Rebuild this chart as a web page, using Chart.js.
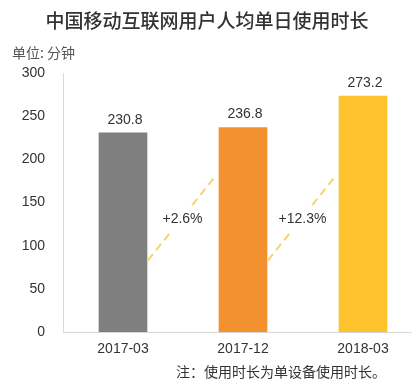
<!DOCTYPE html>
<html>
<head>
<meta charset="utf-8">
<script src="https://cdn.jsdelivr.net/npm/chart.js@4/dist/chart.umd.min.js"></script>
<style>
  html, body { margin: 0; padding: 0; background: #ffffff; }
  #wrap { position: relative; width: 412px; height: 387px; }
</style>
</head>
<body>
<div id="wrap"><canvas id="c" width="412" height="387"></canvas></div>
<script>
// ---- data ----
const categories = ['2017-03', '2017-12', '2018-03'];
const minutes = [230.8, 236.8, 273.2];
const growthLabels = ['+2.6%', '+12.3%'];
const yTicks = [0, 50, 100, 150, 200, 250, 300];
const barColors = ['#7f7f7f', '#f39131', '#fec22c'];
const titleText = '中国移动互联网用户人均单日使用时长';
const unitText = '单位: 分钟';
const noteText = '注：使用时长为单设备使用时长。';

const CJK = '"Noto Sans CJK SC", "Noto Sans", sans-serif';
const LAT = '"Liberation Sans", Arial, sans-serif';

const textPlugin = {
  id: 'texts',
  afterDraw(chart) {
    const ctx = chart.ctx;
    const meta = chart.getDatasetMeta(0);
    const ys = chart.scales.y;
    ctx.save();
    // title
    ctx.fillStyle = '#333333';
    ctx.font = '500 19px ' + CJK;
    ctx.textAlign = 'center';
    ctx.textBaseline = 'middle';
    ctx.fillText(titleText, 207, 21);
    // unit
    ctx.fillStyle = '#555555';
    ctx.font = '14px ' + CJK;
    ctx.textAlign = 'left';
    ctx.fillText(unitText, 12, 53);
    // footnote
    ctx.fillStyle = '#333333';
    ctx.textAlign = 'right';
    ctx.fillText(noteText, 386, 372);
    // value labels
    ctx.font = '14px ' + LAT;
    ctx.textAlign = 'center';
    meta.data.forEach((bar, i) => {
      ctx.fillText(String(minutes[i].toFixed(1)), bar.x + 2, bar.y - 13);
    });
    // growth connectors
    for (let i = 0; i < growthLabels.length; i++) {
      const a = meta.data[i], b = meta.data[i + 1];
      const x0 = a.x + a.width / 2 + 1, x1 = b.x - b.width / 2 - 4;
      const y0 = ys.getPixelForValue(83), y1 = ys.getPixelForValue(180);
      ctx.strokeStyle = '#f5d46e';
      ctx.lineWidth = 2;
      ctx.setLineDash([8, 5]);
      const seg = (t0, t1) => {
        ctx.beginPath();
        ctx.moveTo(x0 + (x1 - x0) * t0, y0 + (y1 - y0) * t0);
        ctx.lineTo(x0 + (x1 - x0) * t1, y0 + (y1 - y0) * t1);
        ctx.stroke();
      };
      seg(0, 0.36);
      seg(0.66, 1);
      ctx.setLineDash([]);
      ctx.fillStyle = '#333333';
      ctx.fillText(growthLabels[i], (x0 + x1) / 2 + 1, ys.getPixelForValue(131));
    }
    ctx.restore();
  }
};

new Chart(document.getElementById('c'), {
  type: 'bar',
  data: {
    datasets: [{
      data: minutes.map((v, i) => ({ x: i, y: v })),
      backgroundColor: barColors,
      barThickness: 48,
      borderWidth: 0
    }]
  },
  options: {
    responsive: false,
    animation: false,
    devicePixelRatio: 1,
    layout: { padding: { top: 73, right: 1, left: 0, bottom: 0 } },
    plugins: { legend: { display: false }, tooltip: { enabled: false }, title: { display: false } },
    scales: {
      x: {
        type: 'linear',
        offset: false,
        min: -0.5,
        max: 2.4,
        grid: { display: false, drawTicks: false, offset: false },
        border: { display: true, color: '#d9d9d9', width: 1 },
        afterBuildTicks: (s) => { s.ticks = categories.map((c, i) => ({ value: i })); },
        afterFit: (s) => { s.height = 55; },
        ticks: {
          autoSkip: false,
          maxRotation: 0,
          padding: 9,
          color: '#333333',
          font: { family: LAT, size: 14 },
          callback: (v) => categories[v] !== undefined ? categories[v] : ''
        }
      },
      y: {
        min: 0,
        max: 300,
        grid: { display: false, drawTicks: false },
        border: { display: true, color: '#d9d9d9', width: 1 },
        afterBuildTicks: (s) => { s.ticks = yTicks.map(v => ({ value: v })); },
        afterFit: (s) => { s.width = 63; },
        ticks: {
          padding: 18,
          color: '#333333',
          font: { family: LAT, size: 14 }
        }
      }
    }
  },
  plugins: [textPlugin]
});
</script>
</body>
</html>
